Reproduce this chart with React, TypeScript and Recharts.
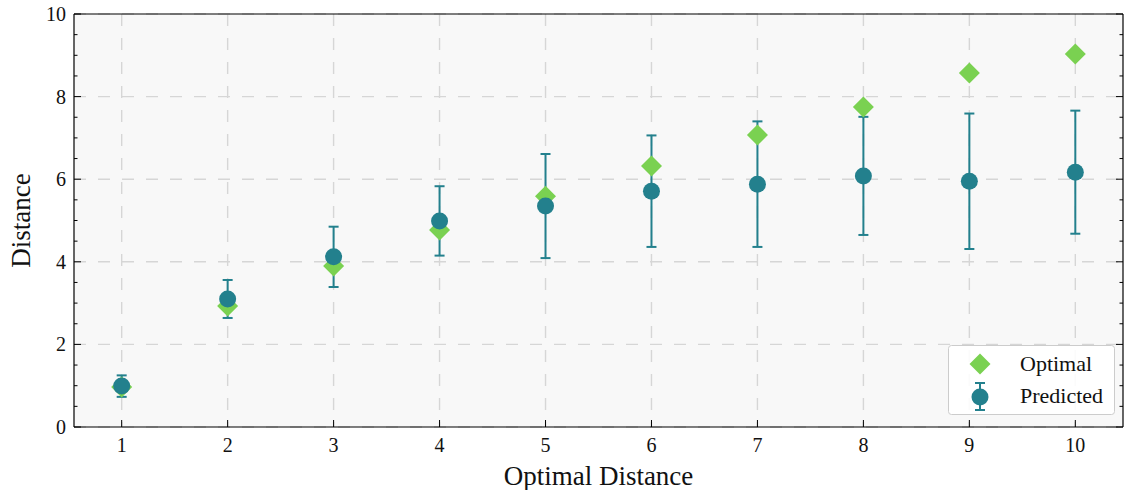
import React from 'react';
import {
  ScatterChart,
  Scatter,
  XAxis,
  YAxis,
  CartesianGrid,
  ErrorBar,
  Legend,
  Label,
} from 'recharts';

const categories = [1, 2, 3, 4, 5, 6, 7, 8, 9, 10];
const optimalValues = [0.97, 2.93, 3.9, 4.77, 5.59, 6.32, 7.07, 7.75, 8.57, 9.03];
const predictedValues = [0.99, 3.1, 4.12, 4.99, 5.35, 5.71, 5.88, 6.08, 5.95, 6.17];
const predictedErrors = [0.26, 0.46, 0.73, 0.84, 1.26, 1.35, 1.52, 1.43, 1.64, 1.49];

const xTicks = [1, 2, 3, 4, 5, 6, 7, 8, 9, 10];
const yMajorTicks = [0, 2, 4, 6, 8, 10];
const yAllTicks = [0, 0.5, 1, 1.5, 2, 2.5, 3, 3.5, 4, 4.5, 5, 5.5, 6, 6.5, 7, 7.5, 8, 8.5, 9, 9.5, 10];

const seriesNames = ['Optimal', 'Predicted'];
const xLabel = 'Optimal Distance';
const yLabel = 'Distance';

const GREEN = '#7ad151';
const TEAL = '#23808d';
const FONT = '"Liberation Serif", "Times New Roman", serif';

const optimalData = categories.map((x, i) => ({ x, y: optimalValues[i] }));
const predictedData = categories.map((x, i) => ({ x, y: predictedValues[i], err: predictedErrors[i] }));

const MAJOR = 7;
const MINOR = 3.5;

const isMajorY = (v: number) => yMajorTicks.indexOf(v) >= 0;

const BottomTick = (props: any) => {
  const { x, y, payload } = props;
  return (
    <g>
      <line x1={x} y1={y} x2={x} y2={y - MAJOR} stroke="#000" strokeWidth={1} />
      <text x={x} y={y + 25} textAnchor="middle" fontSize={20} fontFamily={FONT} fill="#111">
        {payload.value}
      </text>
    </g>
  );
};

const TopTick = (props: any) => {
  const { x, y } = props;
  return <line x1={x} y1={y} x2={x} y2={y + MAJOR} stroke="#000" strokeWidth={1} />;
};

const LeftTick = (props: any) => {
  const { x, y, payload } = props;
  const major = isMajorY(payload.value);
  return (
    <g>
      <line x1={x} y1={y} x2={x + (major ? MAJOR : MINOR)} y2={y} stroke="#000" strokeWidth={1} />
      {major ? (
        <text x={x - 8} y={y + 7} textAnchor="end" fontSize={20} fontFamily={FONT} fill="#111">
          {payload.value}
        </text>
      ) : null}
    </g>
  );
};

const RightTick = (props: any) => {
  const { x, y, payload } = props;
  const major = isMajorY(payload.value);
  return <line x1={x} y1={y} x2={x - (major ? MAJOR : MINOR)} y2={y} stroke="#000" strokeWidth={1} />;
};

const DiamondShape = (props: any) => {
  const { cx, cy } = props;
  const r = 10.5;
  return <polygon points={`${cx},${cy - r} ${cx + r},${cy} ${cx},${cy + r} ${cx - r},${cy}`} fill={GREEN} />;
};

const CircleShape = (props: any) => {
  const { cx, cy } = props;
  return <circle cx={cx} cy={cy} r={8.5} fill={TEAL} />;
};

const LegendBox = () => (
  <svg width={167} height={70} style={{ display: 'block' }}>
    <rect x={0.5} y={0.5} width={166} height={69} rx={3} fill="rgba(255,255,255,0.9)" stroke="#cccccc" />
    <polygon points="32,8.5 42.5,19 32,29.5 21.5,19" fill={GREEN} />
    <line x1={32} y1={38} x2={32} y2={65} stroke={TEAL} strokeWidth={2} />
    <line x1={27} y1={38} x2={37} y2={38} stroke={TEAL} strokeWidth={2} />
    <line x1={27} y1={65} x2={37} y2={65} stroke={TEAL} strokeWidth={2} />
    <circle cx={32} cy={52} r={8.5} fill={TEAL} />
    <text x={72} y={26} fontSize={22} fontFamily={FONT} fill="#111">{seriesNames[0]}</text>
    <text x={72} y={58} fontSize={22} fontFamily={FONT} fill="#111">{seriesNames[1]}</text>
  </svg>
);

const XLabel = (props: any) => {
  const vb = props.viewBox || {};
  return (
    <text x={vb.x + vb.width / 2} y={vb.y + 58} textAnchor="middle" fontSize={27} fontFamily={FONT} fill="#111">
      {xLabel}
    </text>
  );
};

const YLabel = (props: any) => {
  const vb = props.viewBox || {};
  const cy = vb.y + vb.height / 2;
  return (
    <text
      x={30}
      y={cy}
      transform={`rotate(-90, 30, ${cy})`}
      textAnchor="middle"
      fontSize={27}
      fontFamily={FONT}
      fill="#111"
    >
      {yLabel}
    </text>
  );
};

export default function App() {
  return (
    <div style={{ position: 'absolute', left: 0, top: 0, width: 1124, height: 490, background: '#fff' }}>
      <ScatterChart width={1124} height={490} margin={{ top: 13, right: 0, bottom: 0, left: 0 }}>
        <CartesianGrid
          xAxisId={0}
          yAxisId={0}
          stroke="#d6d6d6"
          strokeWidth={1.4}
          strokeDasharray="12 12"
          fill="#f8f8f8"
          horizontalValues={yMajorTicks}
          verticalValues={xTicks}
        />
        <XAxis
          xAxisId={0}
          dataKey="x"
          type="number"
          orientation="bottom"
          domain={[0.55, 10.45]}
          allowDataOverflow
          ticks={xTicks}
          interval={0}
          height={63}
          tickSize={0}
          tickMargin={0}
          tickLine={false}
          tick={<BottomTick />}
          axisLine={{ stroke: '#000', strokeWidth: 1.2 }}
        >
          <Label content={<XLabel />} />
        </XAxis>
        <XAxis
          xAxisId="top"
          type="number"
          orientation="top"
          domain={[0.55, 10.45]}
          allowDataOverflow
          ticks={xTicks}
          interval={0}
          height={1}
          tickSize={0}
          tickMargin={0}
          tickLine={false}
          tick={<TopTick />}
          axisLine={{ stroke: '#000', strokeWidth: 1.2 }}
        />
        <YAxis
          yAxisId={0}
          dataKey="y"
          type="number"
          orientation="left"
          domain={[0, 10]}
          allowDataOverflow
          ticks={yAllTicks}
          interval={0}
          width={74}
          tickSize={0}
          tickMargin={0}
          tickLine={false}
          tick={<LeftTick />}
          axisLine={{ stroke: '#000', strokeWidth: 1.2 }}
        >
          <Label content={<YLabel />} />
        </YAxis>
        <YAxis
          yAxisId="right"
          type="number"
          orientation="right"
          domain={[0, 10]}
          allowDataOverflow
          ticks={yAllTicks}
          interval={0}
          width={1}
          tickSize={0}
          tickMargin={0}
          tickLine={false}
          tick={<RightTick />}
          axisLine={{ stroke: '#000', strokeWidth: 1.2 }}
        />
        <Scatter
          name={seriesNames[0]}
          data={optimalData}
          xAxisId={0}
          yAxisId={0}
          shape={<DiamondShape />}
          isAnimationActive={false}
        />
        <Scatter
          name={seriesNames[1]}
          data={predictedData}
          xAxisId={0}
          yAxisId={0}
          shape={<CircleShape />}
          isAnimationActive={false}
        >
          <ErrorBar dataKey="err" direction="y" width={5} stroke={TEAL} strokeWidth={2} isAnimationActive={false} />
        </Scatter>
        <Legend
          layout="horizontal"
          verticalAlign="middle"
          align="center"
          wrapperStyle={{ left: 948, top: 345, width: 167, height: 70 }}
          content={() => <LegendBox />}
        />
      </ScatterChart>
    </div>
  );
}
